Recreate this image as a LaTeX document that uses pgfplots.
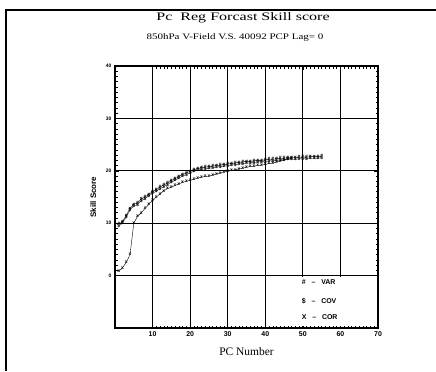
\documentclass[border=0pt]{standalone}
\usepackage{fontspec}
\setmainfont{Liberation Serif}
\setsansfont{Liberation Sans}
\usepackage{pgfplots}
\pgfplotsset{compat=1.18}
\newcommand{\mk}{\sffamily\bfseries\fontsize{5}{5}\selectfont}
\begin{document}
\begin{tikzpicture}[x=1bp,y=1bp]
\useasboundingbox (0,0) rectangle (436,371);
\draw[line width=1.6bp] (6,0) -- (6,361) -- (436,361);
\node[font=\fontsize{11.5}{12}\selectfont] at (243,353) {\scalebox{1.4}[1]{Pc\ \ Reg Forcast Skill score}};
\node[font=\fontsize{8.5}{10}\selectfont] at (235,334) {\scalebox{1.3}[1]{850hPa V-Field V.S. 40092 PCP Lag= 0}};
\begin{axis}[
  at={(115bp,43bp)}, anchor=south west,
  width=263bp, height=262bp, scale only axis,
  xmin=0, xmax=70, ymin=-10, ymax=40,
  xtick={10,20,30,40,50,60,70},
  ytick={0,10,20,30,40},
  extra y ticks={-10}, extra y tick labels={},
  minor tick num=9,
  tick align=inside,
  major tick length=4bp, minor tick length=2.5bp,
  grid=major,
  major grid style={black, line width=0.9bp},
  axis line style={line width=1.2bp},
  tick style={black, line width=0.6bp},
  ticklabel style={font=\sffamily\bfseries\fontsize{7}{8}\selectfont},
  yticklabel style={font=\sffamily\bfseries\fontsize{5}{5}\selectfont},
  xlabel={PC Number},
  xlabel style={font=\fontsize{11.5}{12}\selectfont, yshift=-4bp},
  ylabel={Skill Score},
  ylabel style={font=\sffamily\bfseries\fontsize{8}{8}\selectfont, yshift=3bp},
  /pgf/number format/assume math mode=true,
  axis on top=false,
  clip=false,
]
\fill[white] (axis cs:47.8,-9.6) rectangle (axis cs:69.6,-0.3);
\addplot[black, line width=0.4bp, mark=text, text mark={\mk\#}] coordinates {
(1,9.8)(2,10.3)(3,11.5)(4,12.8)(5,13.6)(6,13.9)(7,14.6)(8,15.0)(9,15.5)(10,16.0)
(11,16.4)(12,16.9)(13,17.3)(14,17.7)(15,18.1)(16,18.5)(17,18.9)(18,19.3)(19,19.6)(20,19.9)
(21,20.2)(22,20.4)(23,20.6)(24,20.7)(25,20.8)(26,20.9)(27,21.0)(28,21.1)(29,21.2)(30,21.3)
(31,21.4)(32,21.5)(33,21.6)(34,21.7)(35,21.8)(36,21.8)(37,21.9)(38,22.0)(39,22.0)(40,22.1)
(41,22.2)(42,22.2)(43,22.3)(44,22.4)(45,22.4)(46,22.5)(47,22.5)(48,22.5)(49,22.6)(50,22.6)
(51,22.6)(52,22.7)(53,22.7)(54,22.7)(55,22.8)};
\addplot[black, line width=0.3bp, mark=text, text mark={\mk\$}] coordinates {
(1,9.5)(2,10.0)(3,11.2)(4,12.5)(5,13.3)(6,13.6)(7,14.3)(8,14.7)(9,15.2)(10,15.7)
(11,16.1)(12,16.6)(13,17.0)(14,17.4)(15,17.8)(16,18.2)(17,18.6)(18,19.0)(19,19.3)(20,19.6)
(21,19.9)(22,20.1)(23,20.3)(24,20.4)(25,20.5)(26,20.6)(27,20.7)(28,20.8)(29,20.9)(30,21.0)
(31,21.1)(32,21.2)(33,21.3)(34,21.4)(35,21.5)(36,21.5)(37,21.6)(38,21.7)(39,21.7)(40,21.8)
(41,21.9)(42,21.9)(43,22.0)(44,22.1)(45,22.1)(46,22.2)(47,22.2)(48,22.2)(49,22.3)(50,22.3)
(51,22.3)(52,22.4)(53,22.4)(54,22.4)(55,22.5)};
\addplot[black, line width=0.4bp, mark=text, text mark={\mk x}] coordinates {
(1,0.8)(2,1.5)(3,2.5)(4,4.0)(5,10.0)(6,11.3)(7,12.0)(8,12.8)(9,13.6)(10,14.3)
(11,15.0)(12,15.6)(13,16.2)(14,16.6)(15,16.9)(16,17.2)(17,17.5)(18,17.8)(19,18.0)(20,18.2)
(21,18.4)(22,18.6)(23,18.8)(24,18.9)(25,19.0)(26,19.2)(27,19.4)(28,19.6)(29,19.8)(30,19.9)
(31,20.1)(32,20.2)(33,20.4)(34,20.5)(35,20.7)(36,20.8)(37,20.9)(38,21.0)(39,21.1)(40,21.2)
(41,21.4)(42,21.5)(43,21.7)(44,21.9)(45,22.1)(46,22.3)(47,22.4)};
\node[font=\sffamily\bfseries\fontsize{7}{8}\selectfont, anchor=west] at (axis cs:48.8,-1.3) {\#\ \ \ --\ \ \ VAR};
\node[font=\sffamily\bfseries\fontsize{7}{8}\selectfont, anchor=west] at (axis cs:48.8,-4.8) {\$\ \ \ --\ \ \ COV};
\node[font=\sffamily\bfseries\fontsize{7}{8}\selectfont, anchor=west] at (axis cs:48.8,-8.0) {X\ \ \ --\ \ \ COR};
\end{axis}
\end{tikzpicture}
\end{document}
